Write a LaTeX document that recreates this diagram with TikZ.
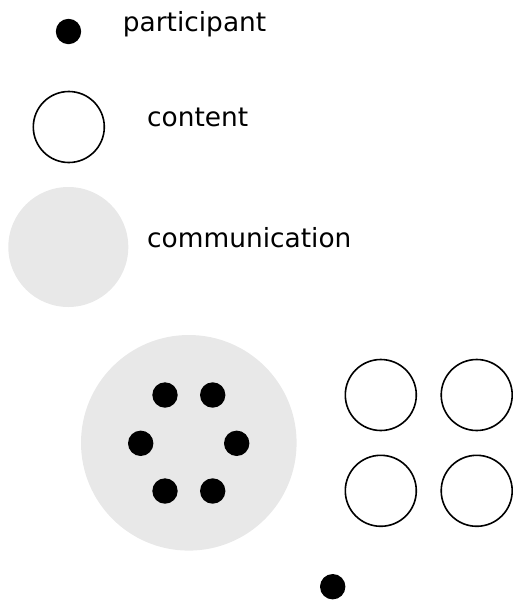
\documentclass[tikz,border=0pt]{standalone}
\usepackage{fontspec}
\setmainfont{DejaVu Sans}
\definecolor{commgray}{RGB}{232,232,232}
\begin{document}
\begin{tikzpicture}[x=1pt,y=-1pt,
  dot/.style={circle,fill=black,draw=none,minimum size=25.4pt,inner sep=0pt},
  contentc/.style={circle,draw=black,line width=1.6pt,fill=white,minimum size=71pt,inner sep=0pt},
  commc/.style={circle,fill=commgray,draw=none,inner sep=0pt},
  lbl/.style={anchor=base west,inner sep=0pt,font=\fontsize{26.4}{30}\selectfont}]
\useasboundingbox (0,0) rectangle (512,600);
% legend
\node[dot] (legdot) at (68.5,31.5) {};
\node[lbl] (legdottxt) at (122.7,31.7) {participant};
\node[contentc] (legcont) at (68.8,127) {};
\node[lbl] (legconttxt) at (147,126.7) {content};
\node[commc,minimum size=120pt] (legcomm) at (68.3,247) {};
\node[lbl] (legcommtxt) at (147,247.3) {communication};
% communication with participants
\node[commc,minimum size=215.6pt] (comm) at (188.8,442.8) {};
\node[dot] (p1) at (165,395) {};
\node[dot] (p2) at (212.7,395) {};
\node[dot] (p3) at (140.7,443.3) {};
\node[dot] (p4) at (236.7,443.3) {};
\node[dot] (p5) at (165,491) {};
\node[dot] (p6) at (212.7,491) {};
% content
\node[contentc] (c1) at (380.8,395) {};
\node[contentc] (c2) at (476.7,395) {};
\node[contentc] (c3) at (380.8,490.8) {};
\node[contentc] (c4) at (476.7,490.8) {};
% lone participant
\node[dot] (lone) at (332.7,586.7) {};
\end{tikzpicture}
\end{document}
